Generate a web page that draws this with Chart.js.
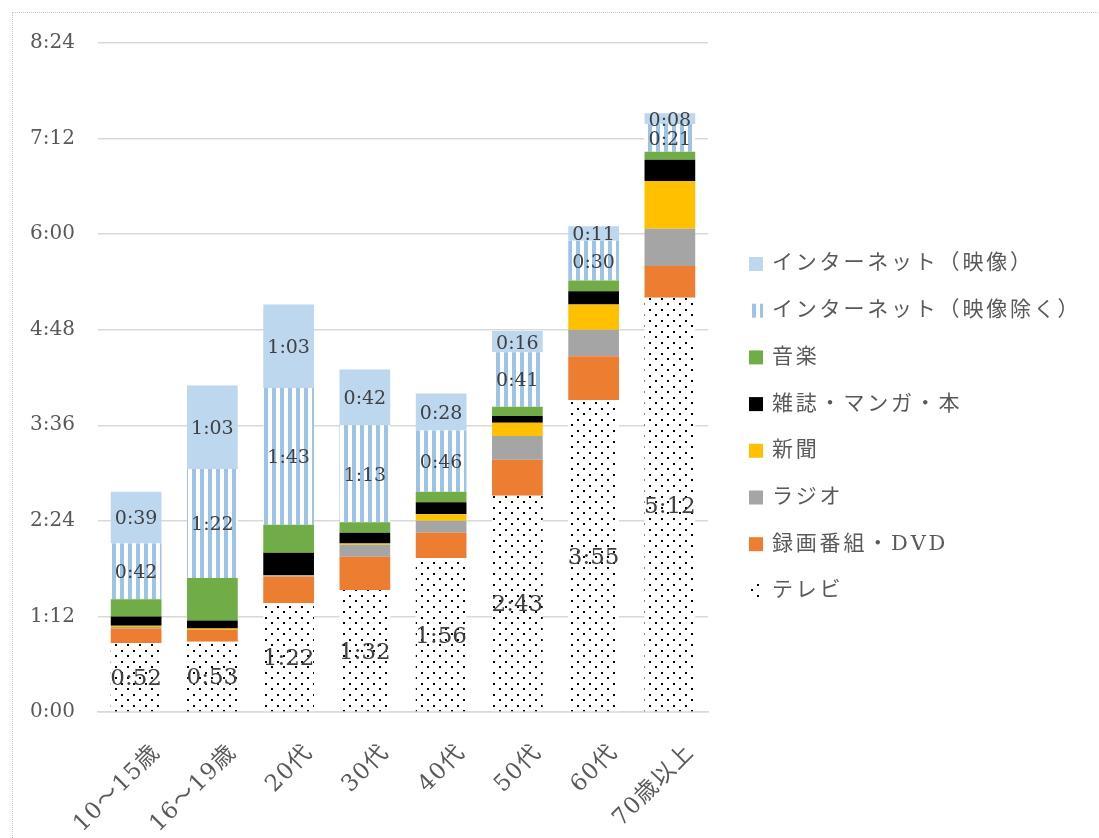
<!DOCTYPE html>
<html lang="ja">
<head>
<meta charset="utf-8">
<title>年代別メディア接触時間</title>
<script src="https://cdn.jsdelivr.net/npm/chart.js@4.4.1/dist/chart.umd.min.js"></script>
<style>
  html, body { margin: 0; padding: 0; background: #fff; overflow: hidden; }
  #frame { position: absolute; left: 12px; top: 12px; width: 1200px; height: 1000px; border: 1px dotted #c9c9c9; }
  #chart { position: absolute; left: 0; top: 0; }
</style>
</head>
<body>
<div id="frame"></div>
<canvas id="chart" width="1099" height="838"></canvas>
<script>
// minutes per day, by age group
const categories = ['10〜15歳', '16〜19歳', '20代', '30代', '40代', '50代', '60代', '70歳以上'];
const tv         = [52, 53, 82, 92, 116, 163, 235, 312];
const recorded   = [11, 9, 20, 25, 19, 27, 33, 24];
const radio      = [1, 0, 1, 9, 9, 18, 20, 28];
const newspaper  = [1, 1, 0, 1, 5, 10, 19, 36];
const magazines  = [7, 6, 17, 8, 9, 5, 10, 16];
const music      = [13, 32, 21, 8, 8, 7, 8, 6];
const netOther   = [42, 82, 103, 73, 46, 41, 30, 21];
const netVideo   = [39, 63, 63, 42, 28, 16, 11, 8];
const yMax = 504;   // 8:24
const yStep = 72;   // 1:12

const SERIF = '"DejaVu Serif", "Noto Sans CJK JP", serif';
const TEXT_GRAY = '#595959';

function toClock(min) {
  const h = Math.floor(min / 60);
  const m = Math.round(min % 60);
  return h + ':' + String(m).padStart(2, '0');
}

function dotPattern() {
  const c = document.createElement('canvas');
  c.width = 12; c.height = 11;
  const g = c.getContext('2d');
  g.fillStyle = '#fff'; g.fillRect(0, 0, 12, 11);
  g.fillStyle = '#000';
  g.fillRect(1, 1, 2, 2);
  g.fillRect(7, 6, 2, 2);
  return g.createPattern(c, 'repeat');
}
function stripePattern() {
  const c = document.createElement('canvas');
  c.width = 8; c.height = 8;
  const g = c.getContext('2d');
  g.fillStyle = '#fff'; g.fillRect(0, 0, 8, 8);
  g.fillStyle = '#9dc3e6'; g.fillRect(0, 0, 4, 8);
  return g.createPattern(c, 'repeat');
}

// spaced-out text, one glyph at a time
function spacedWidth(ctx, str, spacing) {
  let w = 0;
  for (const ch of str) w += ctx.measureText(ch).width + spacing;
  return w - spacing;
}
function spacedText(ctx, str, x, y, spacing) {
  for (const ch of str) {
    ctx.fillText(ch, x, y);
    x += ctx.measureText(ch).width + spacing;
  }
}

// value labels in the middle of the tv / internet segments
const segmentLabels = {
  id: 'segmentLabels',
  afterDatasetsDraw(chart) {
    const ctx = chart.ctx;
    chart.data.datasets.forEach((ds, di) => {
      if (!ds.labelSize) return;
      const meta = chart.getDatasetMeta(di);
      meta.data.forEach((bar, i) => {
        ctx.save();
        ctx.font = ds.labelSize + 'px ' + SERIF;
        ctx.fillStyle = '#404040';
        ctx.textAlign = 'center';
        ctx.textBaseline = 'middle';
        ctx.fillText(toClock(ds.data[i]), bar.x, (bar.y + bar.base) / 2 + 2);
        ctx.restore();
      });
    });
  }
};

// slanted category names under the axis, text end at the tick
const slantedTicks = {
  id: 'slantedTicks',
  afterDraw(chart) {
    const ctx = chart.ctx, xs = chart.scales.x;
    const spacing = 1.2;
    ctx.save();
    ctx.font = '23px ' + SERIF;
    ctx.fillStyle = TEXT_GRAY;
    ctx.textBaseline = 'middle';
    chart.data.labels.forEach((lab, i) => {
      const w = spacedWidth(ctx, lab, spacing);
      ctx.save();
      ctx.translate(xs.getPixelForTick(i) + 20, xs.top + 38);
      ctx.rotate(-Math.PI / 4);
      spacedText(ctx, lab, -w, 0, spacing);
      ctx.restore();
    });
    ctx.restore();
  }
};

// legend on the right, top item = last dataset
const sideLegend = {
  id: 'sideLegend',
  afterDraw(chart) {
    const ctx = chart.ctx;
    const x = 749, top = 264, gap = 46.7, box = 14;
    const items = [...chart.data.datasets].reverse();
    ctx.save();
    ctx.font = '21px ' + SERIF;
    ctx.textBaseline = 'middle';
    items.forEach((ds, i) => {
      const cy = top + i * gap;
      ctx.fillStyle = ds.backgroundColor;
      ctx.fillRect(x, cy - box / 2, box, box);
      ctx.fillStyle = TEXT_GRAY;
      spacedText(ctx, ds.label, x + 23, cy, 2.8);
    });
    ctx.restore();
  }
};

const datasets = [
  { label: 'テレビ', data: tv, backgroundColor: dotPattern(), labelSize: 23 },
  { label: '録画番組・DVD', data: recorded, backgroundColor: '#ed7d31' },
  { label: 'ラジオ', data: radio, backgroundColor: '#a5a5a5' },
  { label: '新聞', data: newspaper, backgroundColor: '#ffc000' },
  { label: '雑誌・マンガ・本', data: magazines, backgroundColor: '#000000' },
  { label: '音楽', data: music, backgroundColor: '#70ad47' },
  { label: 'インターネット（映像除く）', data: netOther, backgroundColor: stripePattern(), labelSize: 19 },
  { label: 'インターネット（映像）', data: netVideo, backgroundColor: '#bdd7ee', labelSize: 19 }
];

new Chart(document.getElementById('chart'), {
  type: 'bar',
  data: { labels: categories, datasets },
  options: {
    responsive: false,
    animation: false,
    devicePixelRatio: 1,
    layout: { padding: { left: 20, right: 391, top: 43, bottom: 0 } },
    datasets: { bar: { categoryPercentage: 1, barPercentage: 0.665, borderWidth: 0 } },
    plugins: { legend: { display: false }, tooltip: { enabled: false } },
    scales: {
      x: {
        stacked: true,
        grid: { display: false, drawTicks: false },
        border: { color: '#d9d9d9', width: 1.5 },
        ticks: { display: false },
        afterFit(s) { s.height = 126; }
      },
      y: {
        stacked: true, min: 0, max: yMax,
        grid: { color: '#d9d9d9', lineWidth: 1.5, drawTicks: false },
        border: { display: false },
        ticks: {
          stepSize: yStep, callback: v => toClock(v),
          color: TEXT_GRAY, font: { family: SERIF, size: 20 }, padding: 23
        },
        afterFit(s) { s.width = 78; }
      }
    }
  },
  plugins: [segmentLabels, slantedTicks, sideLegend]
});
</script>
</body>
</html>
